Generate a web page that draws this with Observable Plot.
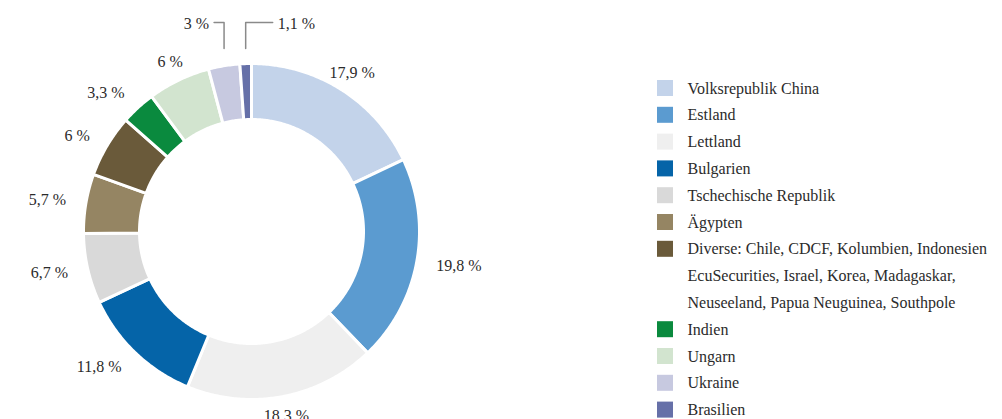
<!DOCTYPE html>
<html>
<head>
<meta charset="utf-8">
<script src="https://cdn.jsdelivr.net/npm/d3@7"></script>
<script src="https://cdn.jsdelivr.net/npm/@observablehq/plot@0.6"></script>
<style>
  html, body { margin: 0; padding: 0; background: #fff; }
  #chart svg { display: block; font-family: "Liberation Serif", "DejaVu Serif", serif !important; }
  #chart svg text { font-family: "Liberation Serif", "DejaVu Serif", serif !important; }
</style>
</head>
<body>
<div id="chart"></div>
<script>
// ---- Data ----
const categories = [
  "Volksrepublik China",
  "Estland",
  "Lettland",
  "Bulgarien",
  "Tschechische Republik",
  "Ägypten",
  "Diverse: Chile, CDCF, Kolumbien, Indonesien\nEcuSecurities, Israel, Korea, Madagaskar,\nNeuseeland, Papua Neuguinea, Southpole",
  "Indien",
  "Ungarn",
  "Ukraine",
  "Brasilien"
];
const values = [17.9, 19.8, 18.3, 11.8, 6.7, 5.7, 6, 3.3, 6, 3, 1.1];
const colors = ["#c3d3ea", "#5b9bd0", "#efefef", "#0564a8", "#d9d9d9", "#958563", "#6a5a3a", "#0a8a3e", "#d2e4cf", "#c7c9e0", "#6670a8"];
const leaderCategories = ["Ukraine", "Brasilien"];

// ---- Layout ----
const W = 1002, H = 419;
const cx = 251, cy = 231, rOuter = 168, rInner = 112, rLabel = 188;
const fmt = v => String(v).replace(".", ",") + " %";

const arcs = d3.pie().sort(null).value(d => d.value)(
  categories.map((name, i) => ({name, value: values[i]}))
);
const px = (a, r) => cx + r * Math.sin(a);
const py = (a, r) => cy - r * Math.cos(a);

// Ring polygons
const ringPts = [];
for (const s of arcs) {
  const n = Math.max(2, Math.ceil((s.endAngle - s.startAngle) / 0.01) + 1);
  for (let k = 0; k < n; k++) {
    const a = s.startAngle + (s.endAngle - s.startAngle) * k / (n - 1);
    ringPts.push({name: s.data.name, x: px(a, rOuter), y: py(a, rOuter)});
  }
  for (let k = n - 1; k >= 0; k--) {
    const a = s.startAngle + (s.endAngle - s.startAngle) * k / (n - 1);
    ringPts.push({name: s.data.name, x: px(a, rInner), y: py(a, rInner)});
  }
}

// Labels
const labelData = arcs.map(s => {
  const a = (s.startAngle + s.endAngle) / 2;
  const sn = Math.sin(a);
  return {name: s.data.name, text: fmt(s.data.value), a, sn,
          x: px(a, rLabel), y: py(a, rLabel),
          anchor: sn > 0.6 ? "start" : sn < -0.6 ? "end" : "middle"};
});
const normalLabels = labelData.filter(d => !leaderCategories.includes(d.name));

// Leader lines (Ukraine to the left, Brasilien to the right)
const leaderPts = [];
const leaderLabels = [];
labelData.filter(d => leaderCategories.includes(d.name)).forEach(d => {
  const x0 = cx + rOuter * d.sn;
  const yLow = cy - rOuter - 15, yTop = cy - rOuter - 41;
  const dir = d.name === "Ukraine" ? -1 : 1;
  const len = d.name === "Ukraine" ? 10 : 27;
  leaderPts.push({name: d.name, x: x0, y: yLow}, {name: d.name, x: x0, y: yTop}, {name: d.name, x: x0 + dir * len, y: yTop});
  leaderLabels.push({text: d.text, x: x0 + dir * (len + 5), y: yTop + 1, anchor: dir < 0 ? "end" : "start"});
});

// Legend rows
const legendRows = [];
categories.forEach((name, i) => {
  name.split("\n").forEach((line, j) => {
    legendRows.push({name, line, swatch: j === 0});
  });
});
const lgX = 657, lgTextX = 687, lgY0 = 88, lgStep = 26.8, sw = 16;
legendRows.forEach((r, i) => { r.y = lgY0 + i * lgStep; });

const font = "Liberation Serif";

const chart = Plot.plot({
  width: W,
  height: H,
  margin: 0,
  x: {domain: [0, W], range: [0, W], axis: null},
  y: {domain: [0, H], range: [0, H], axis: null},
  color: {type: "ordinal", domain: categories, range: colors},
  marks: [
    Plot.line(ringPts, {x: "x", y: "y", z: "name", fill: "name", stroke: "#fff", strokeWidth: 3, curve: "linear-closed"}),
    ...["start", "middle", "end"].map(anc =>
      Plot.text(normalLabels.filter(d => d.anchor === anc), {x: "x", y: "y", text: "text", textAnchor: anc, fontSize: 16, fontFamily: font, fill: "#2b2b2b"})
    ),
    Plot.line(leaderPts, {x: "x", y: "y", z: "name", stroke: "#8a8a8a", strokeWidth: 1.5}),
    ...["start", "end"].map(anc =>
      Plot.text(leaderLabels.filter(d => d.anchor === anc), {x: "x", y: "y", text: "text", textAnchor: anc, fontSize: 16, fontFamily: font, fill: "#2b2b2b"})
    ),
    Plot.rect(legendRows.filter(r => r.swatch), {x1: () => lgX, x2: () => lgX + sw, y1: r => r.y - sw / 2, y2: r => r.y + sw / 2, fill: "name"}),
    Plot.text(legendRows, {x: () => lgTextX, y: "y", text: "line", textAnchor: "start", fontSize: 16, fontFamily: font, fill: "#2b2b2b"})
  ]
});
document.getElementById("chart").appendChild(chart);
</script>
</body>
</html>
